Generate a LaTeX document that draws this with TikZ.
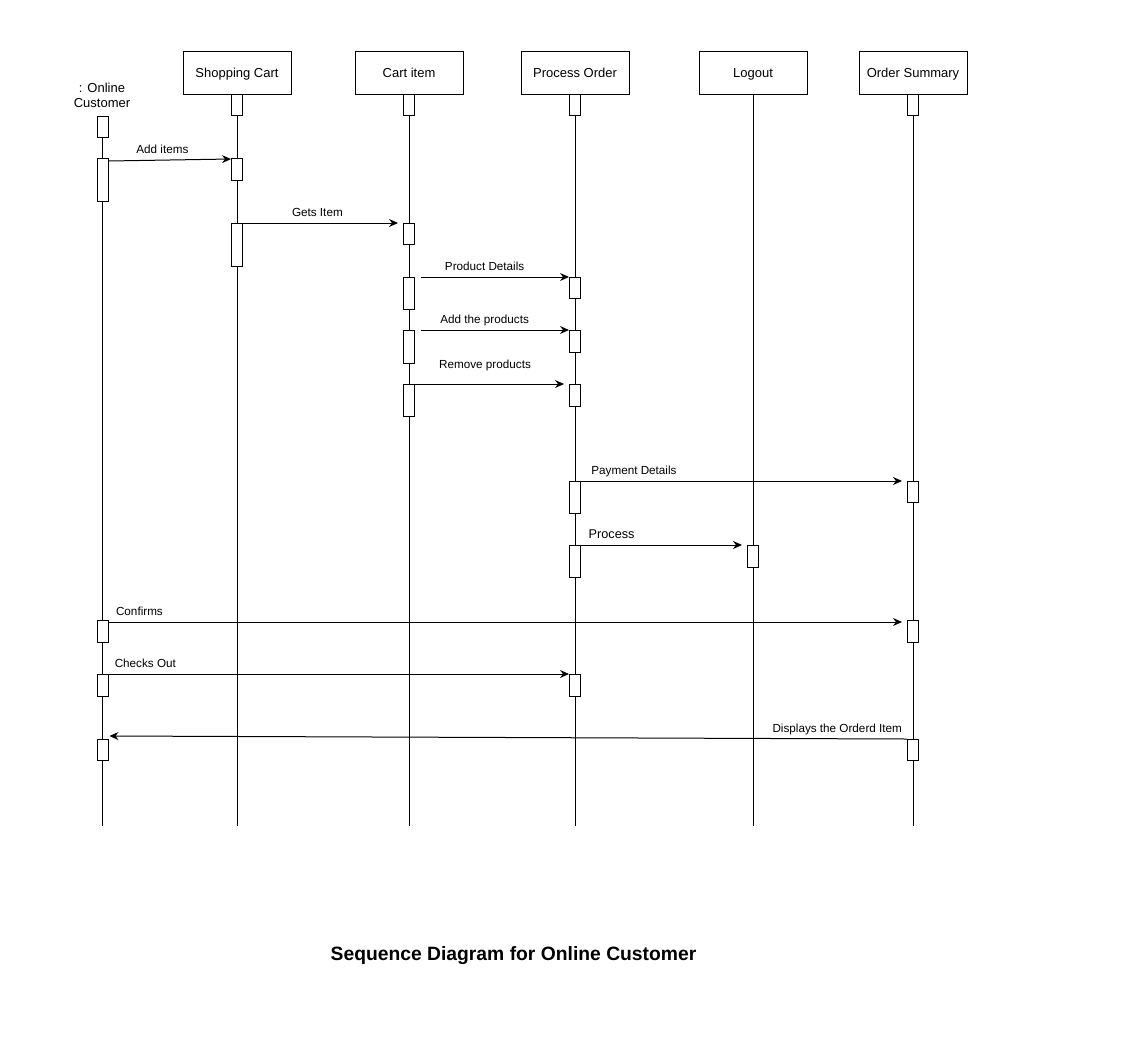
\documentclass[tikz,border=0pt]{standalone}
\usepackage{fontspec}
\setmainfont{Liberation Sans}
\usetikzlibrary{arrows.meta,calc,backgrounds}
\tikzset{
    head/.style={draw, line width=1pt, minimum width=108pt, minimum height=43pt, inner sep=0pt,
        text height=12pt, text depth=2pt, font=\fontsize{13}{15}\selectfont},
    act/.style={draw, fill=white, line width=1pt, minimum width=11pt, inner sep=0pt, anchor=north},
    msg/.style={line width=1pt, -{Stealth[length=9pt,width=8pt,inset=3pt]}},
    lbl/.style={anchor=base, yshift=7pt, font=\fontsize{11.7}{14}\selectfont},
}
\begin{document}
\begin{tikzpicture}[x=1pt,y=-1pt]
        \useasboundingbox (0,0) rectangle (1127,1058);
        \coordinate (bottom) at (0,826);
        \node[head] (cart) at (237,72.5) {Shopping Cart};
        \node[head] (item) at (409,72.5) {Cart item};
        \node[head] (order) at (575,72.5) {Process Order};
        \node[head] (logout) at (753,72.5) {Logout};
        \node[head] (summary) at (913,72.5) {Order Summary};
        \node[align=center, font=\fontsize{13}{15}\selectfont] (cust) at (102,95) {: Online\\Customer};
        \foreach \n/\x/\y/\h in {c1/102.5/116/21, c2/102.5/158/43, c3/102.5/620/22, c4/102.5/674/22, c5/102.5/739/21,
                s1/237/94/21, s2/237/158/22, s3/237/223/43,
                i1/409/94/21, i2/409/223/21, i3/409/277/32, i4/409/330/33, i5/409/384/32,
                p1/575/94/21, p2/575/277/21, p3/575/330/22, p4/575/384/22, p5/575/481/32, p6/575/545/32, p7/575/674/22,
                l1/753/545/22,
                o1/913/94/21, o2/913/481/21, o3/913/620/22, o4/913/739/21}
            \node[act, minimum height=\h pt] (\n) at (\x,\y) {};
        \begin{scope}[on background layer, line width=1pt]
            \foreach \n in {cart,item,order,logout,summary}
                \draw (\n.south) -- (\n.south |- bottom);
            \draw ([xshift=-0.5pt]c1.south) -- ([xshift=-0.5pt]c1.south |- bottom);
        \end{scope}
        \draw[msg] ($(c2.north east)+(0,3)$) -- node[lbl, pos=.44] {Add items} ($(s2.north west)+(0,1)$);
        \draw[msg] (s3.north east) -- node[lbl, pos=.48] {Gets Item} ($(i2.north west)+(-5,0)$);
        \draw[msg] ($(i3.north east)+(6,0)$) -- node[lbl, pos=.43] {Product Details} (p2.north west);
        \draw[msg] ($(i4.north east)+(6,0)$) -- node[lbl, pos=.43] {Add the products} (p3.north west);
        \draw[msg] (i5.north east) -- node[lbl, pos=.47, yshift=9pt] {Remove products} ($(p4.north west)+(-5,0)$);
        \draw[msg] (p5.north east) -- node[lbl, pos=.165] {Payment Details} ($(o2.north west)+(-5,0)$);
        \draw[msg] (p6.north east) -- node[lbl, pos=.19, font=\fontsize{12.7}{15}\selectfont] {Process} ($(l1.north west)+(-5,0)$);
        \draw[msg] ($(c3.north east)+(0,2)$) -- node[lbl, pos=.039] {Confirms} ($(o3.north west)+(-5,2)$);
        \draw[msg] (c4.north east) -- node[lbl, pos=.08] {Checks Out} (p7.north west);
        \draw[msg] (o4.north west) -- node[lbl, pos=.0875, yshift=-1pt] {Displays the Orderd Item} ($(c5.north east)+(1,-3)$);
        \node[anchor=base, font=\bfseries\fontsize{19.3}{23}\selectfont] (title) at (513.5,960) {Sequence Diagram for Online Customer};
\end{tikzpicture}
\end{document}
